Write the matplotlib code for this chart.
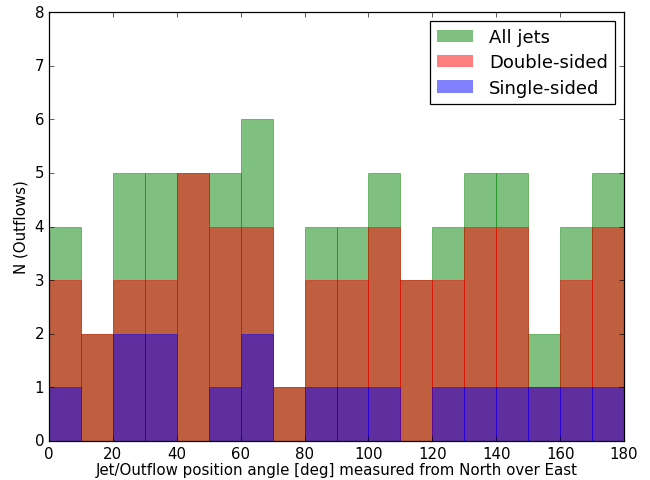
import numpy as np
import matplotlib
matplotlib.use("Agg")
import matplotlib.pyplot as plt

# bin edges (deg) and counts per 10-deg bin
bin_edges    = np.arange(0, 190, 10)
all_jets     = [4, 2, 5, 5, 5, 5, 6, 1, 4, 4, 5, 3, 4, 5, 5, 2, 4, 5]
double_sided = [3, 2, 3, 3, 5, 4, 4, 1, 3, 3, 4, 3, 3, 4, 4, 1, 3, 4]
single_sided = [1, 0, 2, 2, 0, 1, 2, 0, 1, 1, 1, 0, 1, 1, 1, 1, 1, 1]

plt.style.use("classic")
plt.rcParams["figure.facecolor"] = "white"
plt.rcParams["savefig.facecolor"] = "white"

DPI = 90
fig, ax = plt.subplots(figsize=(650 / DPI, 481 / DPI), dpi=DPI)
fig.subplots_adjust(left=49 / 650, right=624 / 650,
                    bottom=(481 - 442) / 481, top=(481 - 13) / 481)

centers = bin_edges[:-1] + 5
for vals, col, lab in [(all_jets, "g", "All jets"),
                       (double_sided, "r", "Double-sided"),
                       (single_sided, "b", "Single-sided")]:
    ax.hist(centers, bins=bin_edges, weights=vals, color=col, alpha=0.5,
            edgecolor=col, linewidth=0.7, label=lab)

ax.set_xlim(0, 180)
ax.set_ylim(0, 8)
ax.set_xlabel("Jet/Outflow position angle [deg] measured from North over East",
              labelpad=1)
ax.set_ylabel("N (Outflows)")
leg = ax.legend(loc="upper right", handlelength=2.0, handletextpad=0.9,
                labelspacing=0.4, borderpad=0.4)
for h in leg.legend_handles:
    h.set_edgecolor("none")

plt.savefig("out.png", dpi=DPI)
